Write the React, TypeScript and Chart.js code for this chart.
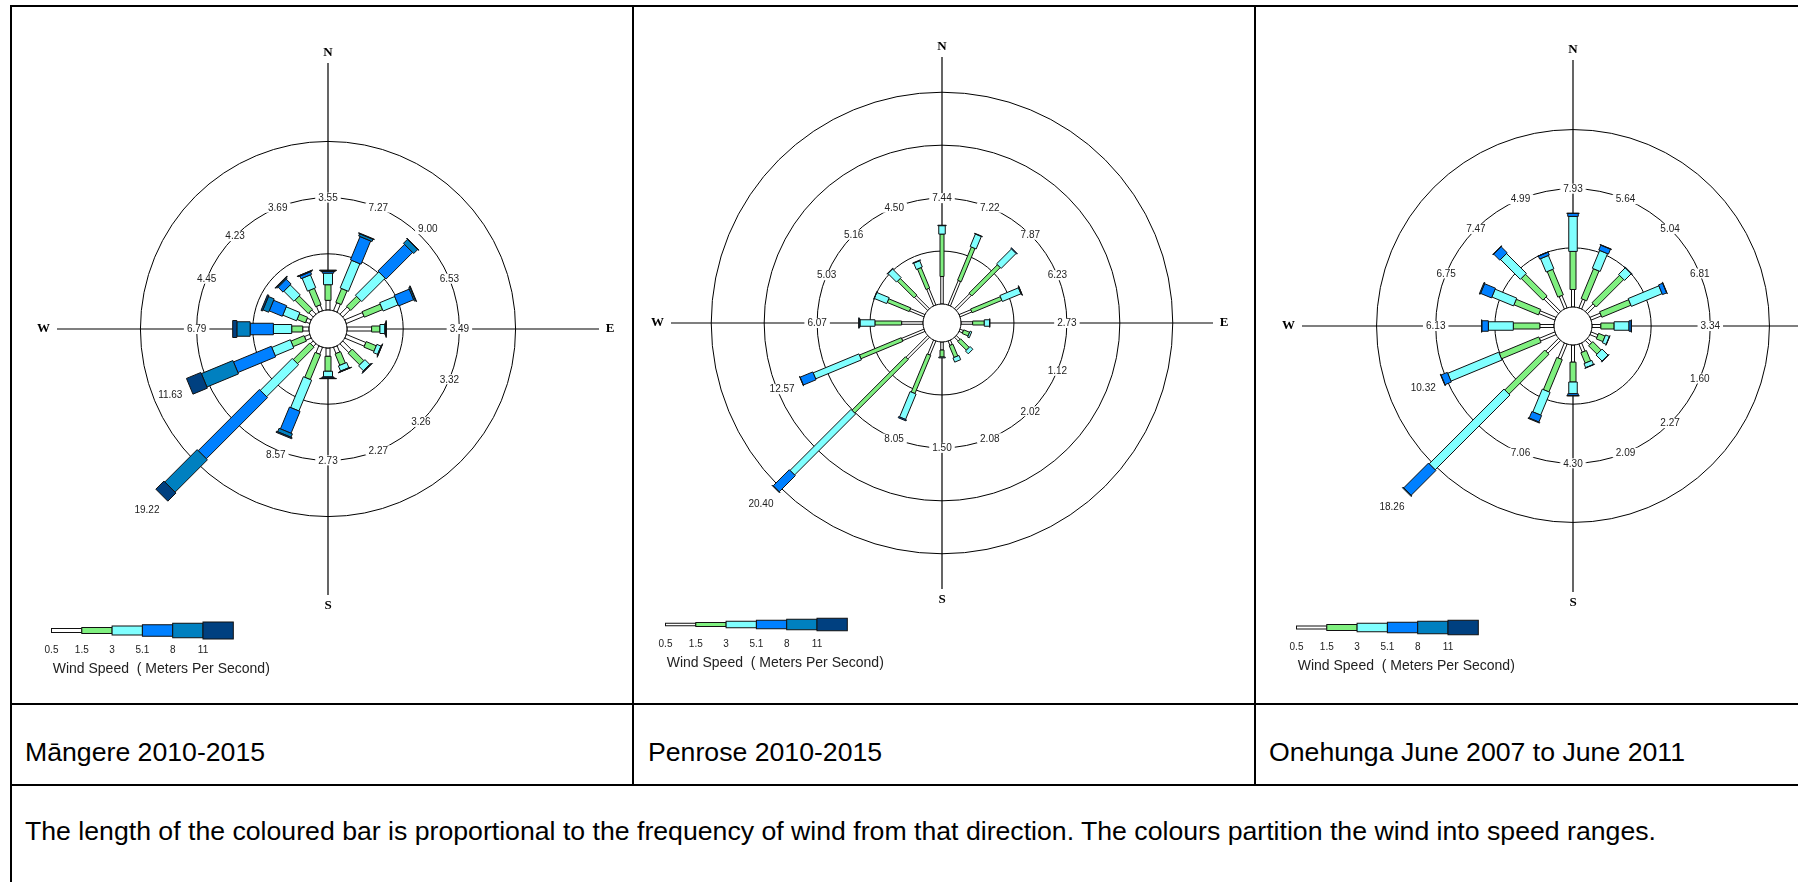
import React, { useEffect, useLayoutEffect, useRef } from 'react';
import { Chart, registerables } from 'chart.js';

Chart.register(...registerables);

// Sixteen compass sectors, clockwise from north
const DIRECTIONS = ['N', 'NNE', 'NE', 'ENE', 'E', 'ESE', 'SE', 'SSE', 'S', 'SSW', 'SW', 'WSW', 'W', 'WNW', 'NW', 'NNW'];

// Wind speed class lower bounds (m/s), shown under the legend bar
const SPEED_BREAKS = ['0.5', '1.5', '3', '5.1', '8', '11'];
const SPEED_COLORS = ['#ffffff', '#80f080', '#80ffff', '#0080ff', '#0080c0', '#004080'];

// Māngere 2010-2015: frequency (%) per direction for each speed class
const MANGERE_0_5 = [0.86, 0.77, 0.91, 1.70, 2.19, 1.88, 1.10, 0.60, 0.74, 0.67, 0.33, 0.50, 0.56, 0.38, 0.53, 0.56];
const MANGERE_1_5 = [1.39, 1.33, 1.25, 1.75, 0.74, 0.97, 1.46, 1.10, 1.33, 2.40, 2.08, 1.27, 0.98, 0.80, 1.67, 1.56];
const MANGERE_3_0 = [1.03, 2.66, 2.94, 1.45, 0.44, 0.40, 0.60, 0.50, 0.50, 2.97, 4.02, 1.79, 1.63, 1.32, 1.26, 1.24];
const MANGERE_5_1 = [0.15, 2.24, 3.35, 1.45, 0.08, 0.05, 0.07, 0.05, 0.10, 2.10, 7.70, 3.64, 2.07, 1.26, 0.62, 0.25];
const MANGERE_8_0 = [0.08, 0.22, 0.50, 0.13, 0.03, 0.02, 0.03, 0.02, 0.04, 0.33, 4.07, 3.04, 1.18, 0.55, 0.10, 0.06];
const MANGERE_11 = [0.04, 0.05, 0.05, 0.05, 0.01, 0.00, 0.00, 0.00, 0.02, 0.10, 1.02, 1.39, 0.37, 0.14, 0.05, 0.02];
const MANGERE_RINGS = [5, 10, 15];

// Penrose 2010-2015
const PENROSE_0_5 = [2.60, 2.50, 2.00, 1.20, 1.10, 0.35, 0.50, 0.45, 0.76, 1.44, 2.90, 2.29, 2.02, 1.48, 1.74, 1.70];
const PENROSE_1_5 = [4.00, 3.40, 3.80, 3.05, 1.10, 0.60, 1.15, 1.20, 0.66, 3.90, 7.15, 4.28, 2.52, 2.25, 2.23, 2.10];
const PENROSE_3_0 = [0.80, 1.28, 2.00, 1.90, 0.50, 0.17, 0.37, 0.43, 0.08, 2.60, 8.15, 4.68, 1.41, 1.27, 1.15, 0.65];
const PENROSE_5_1 = [0.04, 0.04, 0.07, 0.06, 0.03, 0.00, 0.00, 0.00, 0.00, 0.11, 2.15, 1.30, 0.08, 0.03, 0.04, 0.05];
const PENROSE_8_0 = [0.00, 0.00, 0.00, 0.02, 0.00, 0.00, 0.00, 0.00, 0.00, 0.00, 0.05, 0.02, 0.04, 0.00, 0.00, 0.00];
const PENROSE_11 = [0, 0, 0, 0, 0, 0, 0, 0, 0, 0, 0, 0, 0, 0, 0, 0];
const PENROSE_RINGS = [5, 10, 15, 20];

// Onehunga June 2007 to June 2011
const ONEHUNGA_0_5 = [1.48, 0.80, 0.92, 0.93, 0.75, 0.63, 0.51, 0.74, 1.45, 1.37, 1.52, 1.42, 1.20, 1.45, 1.74, 1.14];
const ONEHUNGA_1_5 = [3.22, 2.73, 3.28, 2.66, 1.12, 0.60, 1.00, 0.95, 1.68, 2.95, 4.77, 3.62, 2.24, 2.24, 2.59, 2.34];
const ONEHUNGA_3_0 = [2.96, 1.63, 0.80, 2.81, 1.26, 0.35, 0.72, 0.37, 0.99, 2.08, 8.94, 4.67, 2.11, 1.98, 2.37, 1.22];
const ONEHUNGA_5_1 = [0.25, 0.45, 0.04, 0.38, 0.19, 0.02, 0.04, 0.03, 0.16, 0.60, 2.95, 0.58, 0.55, 1.00, 0.72, 0.27];
const ONEHUNGA_8_0 = [0.02, 0.03, 0.00, 0.03, 0.02, 0.00, 0.00, 0.00, 0.02, 0.06, 0.08, 0.03, 0.03, 0.08, 0.05, 0.02];
const ONEHUNGA_11 = [0, 0, 0, 0, 0, 0, 0, 0, 0, 0, 0, 0, 0, 0, 0, 0];
const ONEHUNGA_RINGS = [5, 10, 15];

const LABEL_RING = 10; // % ring on which the direction totals sit

const CAPTIONS = ['Māngere 2010-2015', 'Penrose 2010-2015', 'Onehunga June 2007 to June 2011'];
const NOTE = 'The length of the coloured bar is proportional to the frequency of wind from that direction. The colours partition the wind into speed ranges.';
const LEGEND_TITLE = 'Wind Speed  ( Meters Per Second)';

type Station = {
  bands: number[][];
  rings: number[];
  widths: number[];
  cx: number;
  cy: number;
};

const STATIONS: Station[] = [
  {
    bands: [MANGERE_0_5, MANGERE_1_5, MANGERE_3_0, MANGERE_5_1, MANGERE_8_0, MANGERE_11],
    rings: MANGERE_RINGS,
    widths: [4, 6, 9, 11.5, 14.5, 17],
    cx: 328,
    cy: 329,
  },
  {
    bands: [PENROSE_0_5, PENROSE_1_5, PENROSE_3_0, PENROSE_5_1, PENROSE_8_0, PENROSE_11],
    rings: PENROSE_RINGS,
    widths: [2.5, 4, 6.5, 8.5, 10.5, 12.5],
    cx: 942,
    cy: 323,
  },
  {
    bands: [ONEHUNGA_0_5, ONEHUNGA_1_5, ONEHUNGA_3_0, ONEHUNGA_5_1, ONEHUNGA_8_0, ONEHUNGA_11],
    rings: ONEHUNGA_RINGS,
    widths: [3, 6, 8.5, 10.5, 12.5, 14.5],
    cx: 1573,
    cy: 326,
  },
];

// Canvas geometry (px)
const CW = 600;
const CH = 660;
const CY = 300;
const HOLE_PX = 19;
const TIP_PX = 235;
const LABEL_GAP_PX = 21;
const SANS = '"Liberation Sans", Arial, sans-serif';
const SERIF = '"Liberation Serif", "Times New Roman", serif';

function rosePlugin(st: Station, totals: number[]) {
  return {
    id: 'windRose',
    afterDatasetsDraw(chart: any) {
      const ctx: CanvasRenderingContext2D = chart.ctx;
      const xs = chart.scales.x;
      const ys = chart.scales.y;
      const cx = xs.getPixelForValue(0);
      const cy = ys.getPixelForValue(0);
      const unit = xs.getPixelForValue(1) - cx; // px per percent
      const hole = HOLE_PX / unit;
      const pt = (u: number, deg: number) => {
        const a = (deg * Math.PI) / 180;
        return { x: xs.getPixelForValue(u * Math.sin(a)), y: ys.getPixelForValue(u * Math.cos(a)) };
      };
      const radius = (u: number) => xs.getPixelForValue(u) - cx;

      ctx.save();

      // frequency rings
      ctx.strokeStyle = '#000';
      ctx.lineWidth = 1;
      st.rings.forEach((v) => {
        ctx.beginPath();
        ctx.arc(cx, cy, radius(hole + v), 0, Math.PI * 2);
        ctx.stroke();
      });

      // compass cross
      ctx.lineWidth = 1.2;
      ctx.beginPath();
      ctx.moveTo(cx, cy - 266);
      ctx.lineTo(cx, cy + 266);
      ctx.moveTo(cx - 271, cy);
      ctx.lineTo(cx + 271, cy);
      ctx.stroke();

      // stacked speed-class bars
      ctx.lineWidth = 1;
      ctx.strokeStyle = '#111';
      DIRECTIONS.forEach((_, i) => {
        const deg = i * 22.5;
        const a = (deg * Math.PI) / 180;
        const nx = Math.cos(a);
        const ny = Math.sin(a);
        let u = hole;
        st.bands.forEach((band, b) => {
          const v = band[i];
          if (!(v > 0)) return;
          const p1 = pt(u, deg);
          const p2 = pt(u + v, deg);
          const h = st.widths[b] / 2;
          ctx.beginPath();
          ctx.moveTo(p1.x + nx * h, p1.y + ny * h);
          ctx.lineTo(p2.x + nx * h, p2.y + ny * h);
          ctx.lineTo(p2.x - nx * h, p2.y - ny * h);
          ctx.lineTo(p1.x - nx * h, p1.y - ny * h);
          ctx.closePath();
          ctx.fillStyle = SPEED_COLORS[b];
          ctx.fill();
          ctx.stroke();
          u += v;
        });
      });

      // calm circle
      ctx.beginPath();
      ctx.arc(cx, cy, radius(hole), 0, Math.PI * 2);
      ctx.fillStyle = '#fff';
      ctx.fill();
      ctx.strokeStyle = '#000';
      ctx.stroke();

      // direction totals
      ctx.font = `10px ${SANS}`;
      ctx.textAlign = 'center';
      ctx.textBaseline = 'middle';
      totals.forEach((t, i) => {
        const u = Math.max(hole + LABEL_RING, hole + t + LABEL_GAP_PX / unit);
        const p = pt(u, i * 22.5);
        const txt = t.toFixed(2);
        const w = ctx.measureText(txt).width;
        ctx.fillStyle = '#fff';
        ctx.fillRect(p.x - w / 2 - 3, p.y - 5, w + 6, 10);
        ctx.fillStyle = '#222';
        ctx.fillText(txt, p.x, p.y + 0.5);
      });

      // cardinal letters
      ctx.font = `bold 13px ${SERIF}`;
      ctx.fillStyle = '#000';
      ctx.fillText('N', cx, cy - 276.5);
      ctx.fillText('S', cx, cy + 276.5);
      ctx.fillText('W', cx - 284.5, cy);
      ctx.fillText('E', cx + 282, cy);

      // speed legend
      const lx = cx - 276.5;
      const ly = cy + 301.5;
      const seg = 30.3;
      ctx.strokeStyle = '#111';
      SPEED_BREAKS.forEach((lab, b) => {
        const x0 = lx + b * seg;
        const h = st.widths[b];
        ctx.fillStyle = SPEED_COLORS[b];
        ctx.fillRect(x0, ly - h / 2, seg, h);
        ctx.strokeRect(x0, ly - h / 2, seg, h);
      });
      ctx.font = `10px ${SANS}`;
      ctx.fillStyle = '#222';
      SPEED_BREAKS.forEach((lab, b) => {
        ctx.fillText(lab, lx + b * seg, cy + 321);
      });
      ctx.font = `14px ${SANS}`;
      ctx.textAlign = 'left';
      ctx.fillText(LEGEND_TITLE, cx - 275.3, cy + 340);

      ctx.restore();
    },
  };
}

function WindRose({ station }: { station: Station }) {
  const ref = useRef<HTMLCanvasElement>(null);

  useEffect(() => {
    const canvas = ref.current;
    if (!canvas) return;
    const totals = DIRECTIONS.map((_, i) => station.bands.reduce((s, band) => s + band[i], 0));
    const maxTotal = Math.max(...totals);
    const k = (TIP_PX - HOLE_PX) / maxTotal; // px per percent
    const hole = HOLE_PX / k;
    const tips = totals.map((t, i) => {
      const a = (i * 22.5 * Math.PI) / 180;
      return { x: (hole + t) * Math.sin(a), y: (hole + t) * Math.cos(a) };
    });
    const chart = new Chart(canvas, {
      type: 'scatter',
      data: { datasets: [{ data: tips, pointRadius: 0, pointHoverRadius: 0, showLine: false }] },
      options: {
        animation: false,
        responsive: false,
        maintainAspectRatio: false,
        events: [],
        layout: { padding: 0 },
        plugins: { legend: { display: false }, tooltip: { enabled: false }, title: { display: false } },
        scales: {
          x: { type: 'linear', display: false, min: -CW / 2 / k, max: CW / 2 / k },
          y: { type: 'linear', display: false, min: -(CH - CY) / k, max: CY / k },
        },
      },
      plugins: [rosePlugin(station, totals)],
    } as any);
    return () => chart.destroy();
  }, [station]);

  return (
    <canvas
      ref={ref}
      width={CW}
      height={CH}
      style={{ position: 'absolute', left: station.cx - CW / 2, top: station.cy - CY, width: CW, height: CH }}
    />
  );
}

const rule = (left: number, top: number, width: number, height: number) => (
  <div style={{ position: 'absolute', left, top, width, height, background: '#000' }} />
);

export default function App() {
  useLayoutEffect(() => {
    const b = document.body.style;
    const prev = [b.margin, b.overflow];
    b.margin = '0';
    b.overflow = 'hidden';
    return () => {
      b.margin = prev[0];
      b.overflow = prev[1];
    };
  }, []);

  const textStyle = (left: number, top: number): React.CSSProperties => ({
    position: 'absolute',
    left,
    top,
    fontFamily: SANS,
    fontSize: '26.67px',
    lineHeight: '26.67px',
    color: '#000',
    whiteSpace: 'nowrap',
  });

  return (
    <div style={{ position: 'relative', width: 1798, height: 882, overflow: 'hidden', background: '#fff' }}>
      {rule(10, 5, 1800, 2)}
      {rule(10, 5, 2, 900)}
      {rule(10, 703, 1800, 2)}
      {rule(10, 784, 1800, 2)}
      {rule(632, 5, 2, 781)}
      {rule(1254, 5, 2, 781)}
      {STATIONS.map((s, i) => (
        <WindRose key={i} station={s} />
      ))}
      <div style={textStyle(25, 739)}>{CAPTIONS[0]}</div>
      <div style={textStyle(648, 739)}>{CAPTIONS[1]}</div>
      <div style={textStyle(1269, 739)}>{CAPTIONS[2]}</div>
      <div style={textStyle(25, 818)}>{NOTE}</div>
    </div>
  );
}
